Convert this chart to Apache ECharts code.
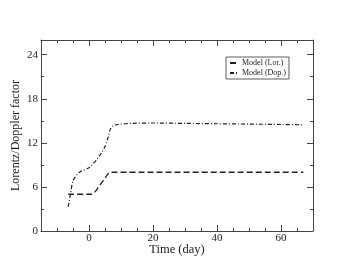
<!DOCTYPE html>
<html><head><meta charset="utf-8">
<script src="https://cdn.jsdelivr.net/npm/echarts@6/dist/echarts.min.js"></script>
<style>html,body{margin:0;padding:0;background:#fff}#c{width:353px;height:273px}</style>
</head><body><div id="c"></div>
<script>
const lorData = [[-6.5,5.0],[0.8,5.0],[2.0,5.4],[3.0,6.0],[4.0,6.6],[5.0,7.2],[5.8,7.7],[6.6,8.0],[67,8.0]];
const dopData = [[-6.5,3.3],[-5.8,5.0],[-4.9,6.9],[-3.0,8.0],[0,8.6],[1.2,9.1],[2.4,9.7],[4.0,10.7],[5.0,11.5],[6.0,12.8],[6.6,13.8],[7.5,14.3],[9,14.5],[13,14.65],[20,14.7],[30,14.65],[40,14.6],[50,14.55],[60,14.5],[67,14.45]];
const xMajor = [0,20,40,60];
const xMinor = [-10,-5,5,10,15,25,30,35,45,50,55,65];
const yMajor = [0,6,12,18,24];
const yMinor = [3,9,15,21];
const seriesNames = ['Model (Lor.)','Model (Dop.)'];

const font = 'Liberation Serif, DejaVu Serif, serif';
const axCol = '#444';
function xa(pos, ticks, len, labels, line) {
  return {type:'value', position:pos, min:-15, max:70,
    axisLine:{show:line, onZero:false, lineStyle:{color:axCol,width:1}},
    axisTick:{show:true, inside:true, length:len, customValues:ticks, lineStyle:{color:axCol}},
    axisLabel:labels?{show:true, customValues:ticks, fontFamily:font, fontSize:11, color:'#222', margin:2}:{show:false},
    splitLine:{show:false}};
}
function ya(pos, ticks, len, labels, line) {
  return {type:'value', position:pos, min:0, max:26,
    axisLine:{show:line, onZero:false, lineStyle:{color:axCol,width:1}},
    axisTick:{show:true, inside:true, length:len, customValues:ticks, lineStyle:{color:axCol}},
    axisLabel:labels?{show:true, customValues:ticks, fontFamily:font, fontSize:11, color:'#222', margin:3}:{show:false},
    splitLine:{show:false}};
}
const xAxes = [xa('bottom', xMajor, 6, true, true), xa('bottom', xMinor, 3, false, false), xa('top', xMajor, 6, false, true), xa('top', xMinor, 3, false, false)];
Object.assign(xAxes[0], {name:'Time (day)', nameLocation:'middle', nameGap:12, nameMoveOverlap:false,
  nameTextStyle:{fontFamily:font, fontSize:12.5, color:'#222', verticalAlign:'top'}});
const yAxes = [ya('left', yMajor, 6, true, true), ya('left', yMinor, 3, false, false), ya('right', yMajor, 6, false, true), ya('right', yMinor, 3, false, false)];
Object.assign(yAxes[0], {name:'Lorentz/Doppler factor', nameLocation:'middle', nameGap:19, nameMoveOverlap:false,
  nameTextStyle:{fontFamily:font, fontSize:12, color:'#222'}});

const chart = echarts.init(document.getElementById('c'), null, {renderer:'canvas'});
chart.setOption({
  animation:false,
  backgroundColor:'#fff',
  grid:{left:41, top:40, right:40, bottom:42, containLabel:false},
  xAxis:xAxes, yAxis:yAxes,
  legend:{left:226, top:57, orient:'vertical', itemWidth:9, itemHeight:5, itemGap:2,
    padding:[2,3,2,3], borderColor:'#333', borderWidth:0.8, borderRadius:0,
    itemStyle:{color:'transparent', borderWidth:0, opacity:0},
    textStyle:{fontFamily:font, fontSize:8, color:'#222', padding:[0,0,0,-2]},
    data:seriesNames},
  series:[
    {name:seriesNames[0], type:'line', data:lorData, showSymbol:false, symbol:'none', smooth:0.3,
     lineStyle:{color:'#222', width:1.3, type:[6,3]}, itemStyle:{color:'#222'}},
    {name:seriesNames[1], type:'line', data:dopData, showSymbol:false, symbol:'none', smooth:0.3,
     lineStyle:{color:'#222', width:1.2, type:[4,2,1,2]}, itemStyle:{color:'#222'}}
  ]
});
</script></body></html>
